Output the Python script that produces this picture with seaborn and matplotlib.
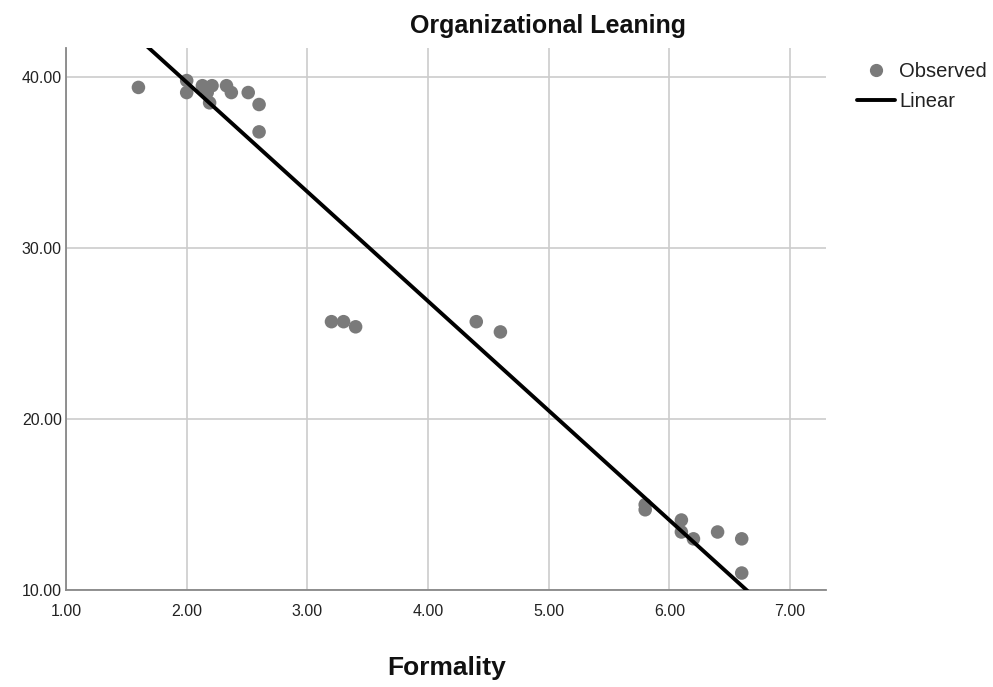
import matplotlib.pyplot as plt
import numpy as np
import pandas as pd
import seaborn as sns
from matplotlib.lines import Line2D

sns.set_theme(style="white")
plt.rcParams["font.family"] = ["Liberation Sans", "DejaVu Sans"]

# observed values
formality = [1.60, 2.00, 2.00, 2.13, 2.21, 2.19, 2.17, 2.33, 2.37, 2.51, 2.60, 2.60,
             3.20, 3.30, 3.40, 4.40, 4.60,
             5.80, 5.80, 6.10, 6.10, 6.20, 6.40, 6.60, 6.60]
leaning = [39.4, 39.8, 39.1, 39.5, 39.5, 38.5, 39.1, 39.5, 39.1, 39.1, 38.4, 36.8,
           25.7, 25.7, 25.4, 25.7, 25.1,
           15.0, 14.7, 14.1, 13.4, 13.0, 13.4, 13.0, 11.0]

# linear fit
intercept = 52.5
slope = -6.40

xticks = [1, 2, 3, 4, 5, 6, 7]
yticks = [10, 20, 30, 40]

df = pd.DataFrame({"Formality": formality, "Leaning": leaning})

fig = plt.figure(figsize=(9.93, 6.87), dpi=100)
ax = fig.add_axes([0.0665, 0.141, 0.7655, 0.789])

sns.scatterplot(data=df, x="Formality", y="Leaning", ax=ax, color="#7a7a7a",
                s=95, edgecolor="none", zorder=3)

xs = np.array([1.0, 7.3])
ax.plot(xs, intercept + slope * xs, color="black", lw=2.8, zorder=4)

ax.set_xlim(1.0, 7.3)
ax.set_ylim(10.0, 41.7)
ax.set_xticks(xticks)
ax.set_yticks(yticks)
ax.set_xticklabels([f"{v:.2f}" for v in xticks], fontsize=11.5, color="#222222")
ax.set_yticklabels([f"{v:.2f}" for v in yticks], fontsize=11.5, color="#222222")
ax.tick_params(axis="y", length=0, pad=3)
ax.tick_params(axis="x", length=0, pad=10)
ax.grid(True, color="#cccccc", lw=1.2)
ax.set_axisbelow(True)
for s in ["top", "right"]:
    ax.spines[s].set_visible(False)
for s in ["left", "bottom"]:
    ax.spines[s].set_color("#888888")
    ax.spines[s].set_linewidth(1.3)
ax.set_xlabel("")
ax.set_ylabel("")

fig.text(0.552, 0.962, "Organizational Leaning", ha="center", va="center",
         fontsize=18, fontweight="bold", color="#111111")
fig.text(0.45, 0.028, "Formality", ha="center", va="center",
         fontsize=19, fontweight="bold", color="#111111")

handles = [
    Line2D([], [], marker="o", color="#7a7a7a", linestyle="none", markersize=8.5),
    Line2D([], [], color="black", lw=2.8),
]
fig.legend(handles, ["Observed", "Linear"], loc="upper left",
           bbox_to_anchor=(0.853, 0.925), frameon=False, fontsize=14.5,
           handlelength=1.9, handletextpad=0.2, labelspacing=0.55, borderpad=0,
           labelcolor="#222222")

fig.savefig("out.png", dpi=100)
